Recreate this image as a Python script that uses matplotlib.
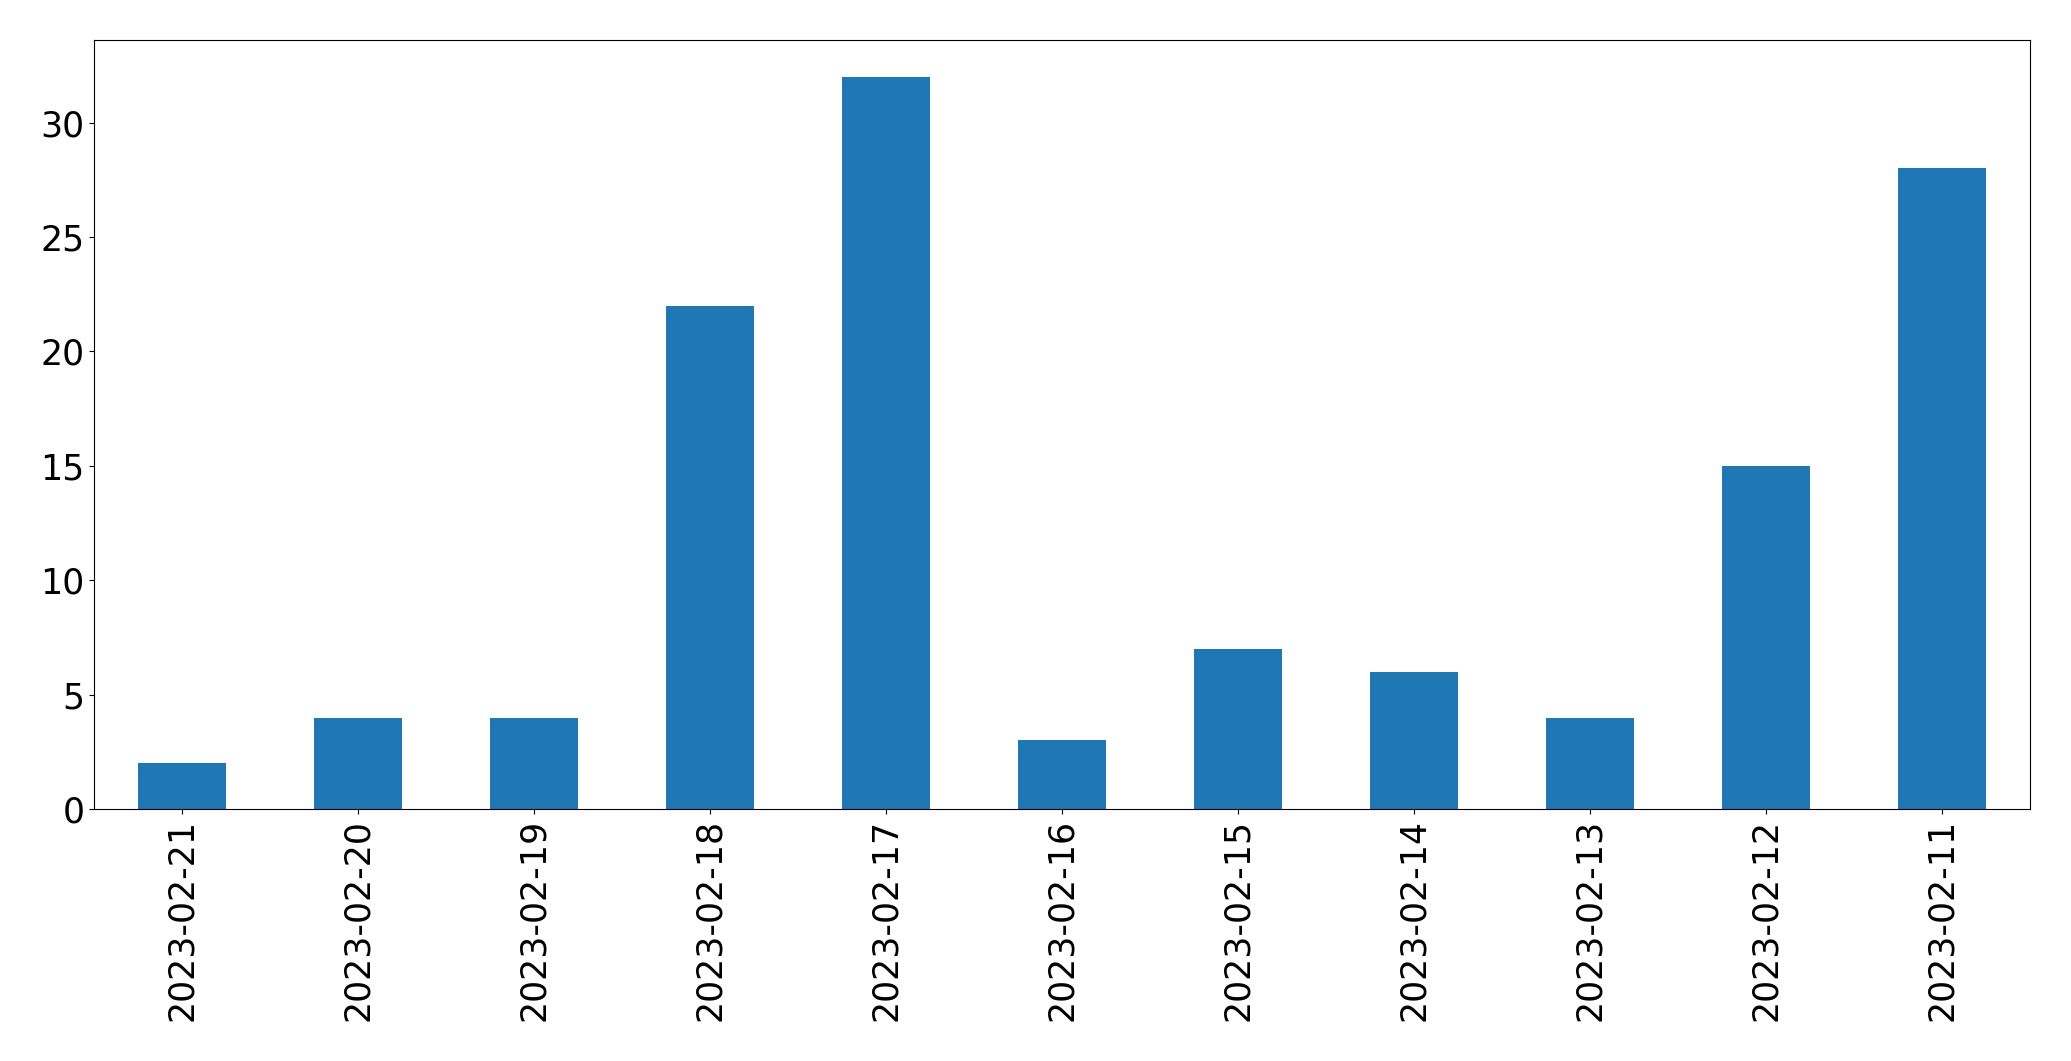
import matplotlib
matplotlib.use("Agg")
import matplotlib.pyplot as plt
import pandas as pd

dates = ["2023-02-21", "2023-02-20", "2023-02-19", "2023-02-18", "2023-02-17",
         "2023-02-16", "2023-02-15", "2023-02-14", "2023-02-13", "2023-02-12", "2023-02-11"]
counts = [2, 4, 4, 22, 32, 3, 7, 6, 4, 15, 28]

s = pd.Series(counts, index=dates)
fig = plt.figure(figsize=(20.71, 10.61), dpi=100)
ax = fig.add_subplot(111)
s.plot(kind="bar", ax=ax, color="#1f77b4", fontsize=25)
ax.tick_params(axis="both", labelsize=25)
fig.subplots_adjust(left=0.0454, right=0.980, top=0.962, bottom=0.2375)
fig.savefig("out.png", dpi=100)
